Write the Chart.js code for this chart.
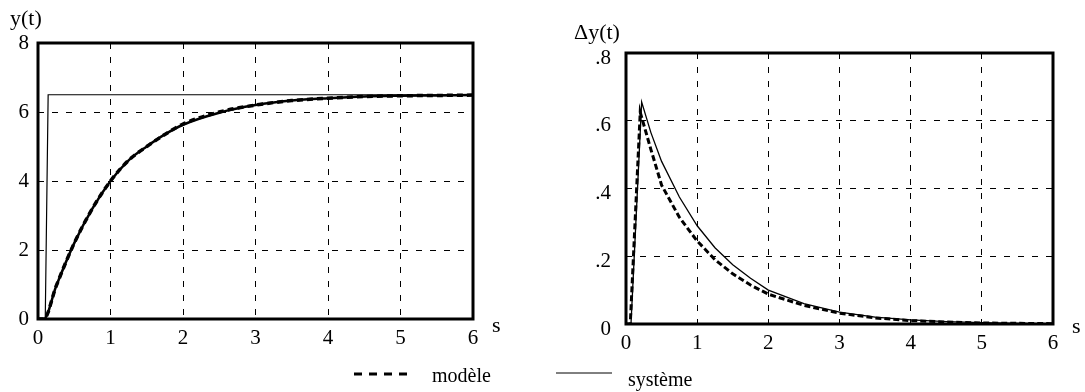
<!DOCTYPE html>
<html>
<head>
<meta charset="utf-8">
<script src="https://cdn.jsdelivr.net/npm/chart.js@4"></script>
<style>
  body { margin: 0; background: #fff; width: 1085px; height: 392px; position: relative; overflow: hidden;
         font-family: "Liberation Serif", "Times New Roman", serif; color: #000; }
  .pane { position: absolute; top: 0; width: 540px; height: 392px; }
  .lbl { position: absolute; font-size: 22px; line-height: 1; white-space: nowrap; }
  .leg { font-size: 20px; }
  svg { position: absolute; }
</style>
</head>
<body>
<div class="pane" style="left:0"><canvas id="left"></canvas></div>
<div class="pane" style="left:545px"><canvas id="right"></canvas></div>

<div class="lbl" style="left:10px;top:7px">y(t)</div>
<div class="lbl" style="left:492px;top:314px">s</div>
<div class="lbl" style="left:574px;top:21px">Δy(t)</div>
<div class="lbl" style="left:1072px;top:315px">s</div>

<svg style="left:350px;top:368px" width="70" height="12"><line x1="4" y1="6" x2="64" y2="6" stroke="#000" stroke-width="3" stroke-dasharray="8,7"/></svg>
<div class="lbl leg" style="left:432px;top:365px">modèle</div>
<svg style="left:552px;top:367px" width="64" height="12"><line x1="4" y1="6" x2="60" y2="6" stroke="#000" stroke-width="1"/></svg>
<div class="lbl leg" style="left:628px;top:369px">système</div>

<script>
// left plot : y(t)
const tStep = [0, 0.1, 0.14, 6];
const yStep = [0, 0, 6.5, 6.5];
const tCurve = [0, 0.08, 0.25, 0.5, 0.75, 1, 1.25, 1.5, 1.75, 2, 2.5, 3, 3.5, 4, 4.5, 5, 5.5, 6];
const yModeleLeft = [0, 0, 0.95, 2.2, 3.2, 4.0, 4.6, 5.0, 5.35, 5.65, 6.0, 6.2, 6.33, 6.4, 6.45, 6.47, 6.48, 6.49];
const ySystemeLeft = [0, 0, 0.95, 2.2, 3.2, 4.0, 4.6, 5.0, 5.35, 5.63, 5.98, 6.2, 6.33, 6.4, 6.45, 6.47, 6.48, 6.49];
const yTicksLeft = ['0', '2', '4', '6', '8'];

// right plot : delta y(t)
const tSysRight = [0, 0.07, 0.22, 0.35, 0.5, 0.75, 1, 1.25, 1.5, 1.75, 2, 2.5, 3, 3.5, 4, 4.5, 5, 5.5, 6];
const ySystemeRight = [0, 0, 0.655, 0.565, 0.48, 0.375, 0.29, 0.225, 0.175, 0.135, 0.1, 0.06, 0.035, 0.02, 0.012, 0.007, 0.004, 0.002, 0.001];
const tModRight = [0, 0.06, 0.2, 0.35, 0.5, 0.75, 1, 1.25, 1.5, 1.75, 2, 2.5, 3, 3.5, 4, 4.5, 5, 5.5, 6];
const yModeleRight = [0, 0, 0.625, 0.515, 0.41, 0.315, 0.245, 0.19, 0.148, 0.115, 0.088, 0.055, 0.032, 0.018, 0.01, 0.006, 0.003, 0.002, 0.001];
const yTicksRight = ['0', '.2', '.4', '.6', '.8'];

const xTicks = ['0', '1', '2', '3', '4', '5', '6'];

const pts = (xs, ys) => xs.map((x, i) => ({ x: x, y: ys[i] }));

// thick frame round the plot area
const frame = {
    id: 'frame',
    beforeDatasetsDraw(chart) {
        const { ctx, chartArea: a } = chart;
        ctx.save();
        ctx.lineWidth = 3;
        ctx.strokeStyle = '#000';
        ctx.strokeRect(a.left, a.top, a.right - a.left, a.bottom - a.top);
        ctx.restore();
    }
};

function makeChart(id, datasets, cfg) {
    const font = { family: '"Liberation Serif", serif', size: 21 };
    return new Chart(document.getElementById(id), {
        type: 'line',
        data: { datasets: datasets },
        options: {
            responsive: true,
            maintainAspectRatio: false,
            animation: false,
            layout: { padding: { top: cfg.top, right: cfg.right, left: 0, bottom: 0 } },
            plugins: { legend: { display: false }, tooltip: { enabled: false } },
            elements: { point: { radius: 0 } },
            scales: {
                x: {
                    type: 'linear', min: 0, max: 6,
                    grid: { color: '#000', lineWidth: 1, drawTicks: false },
                    border: { display: false, dash: [6, 8] },
                    ticks: { stepSize: 1, color: '#000', font: font, padding: 7, maxRotation: 0,
                             callback: (v, i) => xTicks[i] },
                    afterFit(s) { s.height = cfg.xh; s.paddingLeft = 0; s.paddingRight = 0; }
                },
                y: {
                    min: 0, max: cfg.ymax,
                    grid: { color: '#000', lineWidth: 1, drawTicks: false },
                    border: { display: false, dash: [6, 8] },
                    ticks: { stepSize: cfg.ymax / 4, color: '#000', font: font, padding: cfg.ypad,
                             labelOffset: cfg.yoff, callback: (v, i) => cfg.yLabels[i] },
                    afterFit(s) { s.width = cfg.yw; s.paddingTop = 0; s.paddingBottom = 0; }
                }
            }
        },
        plugins: [frame]
    });
}

makeChart('left', [
    { label: 'consigne', data: pts(tStep, yStep), borderColor: '#000', borderWidth: 1.2, tension: 0 },
    { label: 'modèle', data: pts(tCurve, yModeleLeft), borderColor: '#000', borderWidth: 3.5,
      borderDash: [6, 4], cubicInterpolationMode: 'monotone' },
    { label: 'système', data: pts(tCurve, ySystemeLeft), borderColor: '#000', borderWidth: 2.5,
      cubicInterpolationMode: 'monotone' }
], { top: 43, right: 67, xh: 73, yw: 38, ymax: 8, ypad: 9, yoff: 0, yLabels: yTicksLeft });

makeChart('right', [
    { label: 'modèle', data: pts(tModRight, yModeleRight), borderColor: '#000', borderWidth: 3,
      borderDash: [6, 3], tension: 0 },
    { label: 'système', data: pts(tSysRight, ySystemeRight), borderColor: '#000', borderWidth: 1.3,
      tension: 0 }
], { top: 53, right: 32, xh: 68, yw: 81, ymax: 0.8, ypad: 15, yoff: 5, yLabels: yTicksRight });
</script>
</body>
</html>
